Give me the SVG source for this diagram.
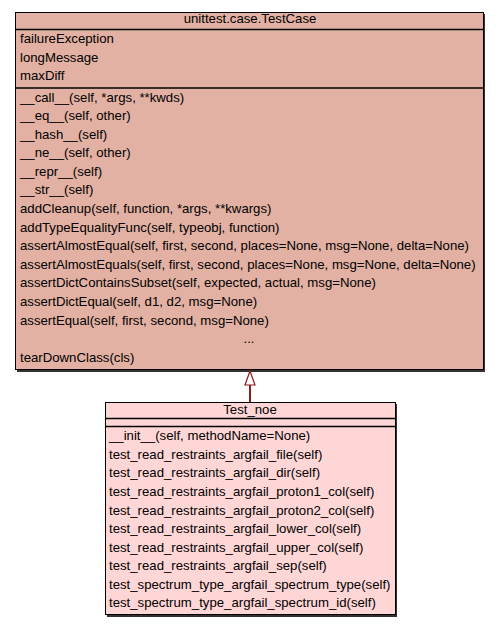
<svg xmlns="http://www.w3.org/2000/svg" width="499" height="627" viewBox="0 0 499 627">
<style>
text{font-family:"Liberation Sans",Arial,sans-serif;font-size:13.2px;fill:#000}
.c{text-anchor:middle}
.box{stroke:#000;stroke-width:1}
.sh{fill:#3a3030}
.sep{stroke:#000;stroke-width:1.3}
</style>
<rect width="499" height="627" fill="#fff"/>
<g id="TestCase">
<rect class="sh" x="17" y="14" width="468" height="358"/>
<rect class="box" x="15.5" y="12.5" width="468" height="357" fill="#e2b1a3"/>
<line class="sep" x1="15.5" y1="29.5" x2="483.5" y2="29.5"/>
<line class="sep" x1="15.5" y1="88" x2="483.5" y2="88"/>
<text class="c" x="250" y="23">unittest.case.TestCase</text>
<text x="20" y="43">failureException</text>
<text x="20" y="61.5">longMessage</text>
<text x="20" y="80">maxDiff</text>
<text x="20" y="101.5">__call__(self, *args, **kwds)</text>
<text x="20" y="120">__eq__(self, other)</text>
<text x="20" y="138.5">__hash__(self)</text>
<text x="20" y="157">__ne__(self, other)</text>
<text x="20" y="175.5">__repr__(self)</text>
<text x="20" y="194">__str__(self)</text>
<text x="20" y="213">addCleanup(self, function, *args, **kwargs)</text>
<text x="20" y="231.5">addTypeEqualityFunc(self, typeobj, function)</text>
<text x="20" y="250">assertAlmostEqual(self, first, second, places=None, msg=None, delta=None)</text>
<text x="20" y="268.5">assertAlmostEquals(self, first, second, places=None, msg=None, delta=None)</text>
<text x="20" y="287">assertDictContainsSubset(self, expected, actual, msg=None)</text>
<text x="20" y="306">assertDictEqual(self, d1, d2, msg=None)</text>
<text x="20" y="324.5">assertEqual(self, first, second, msg=None)</text>
<text class="c" x="249" y="343">...</text>
<text x="20" y="361.5">tearDownClass(cls)</text>
</g>
<g id="Test_noe">
<rect class="sh" x="107" y="404" width="290" height="213"/>
<rect class="box" x="105.5" y="402.5" width="290" height="212" fill="#ffd6d6"/>
<line class="sep" x1="105.5" y1="418.5" x2="395.5" y2="418.5"/>
<line class="sep" x1="105.5" y1="426.5" x2="395.5" y2="426.5"/>
<text class="c" x="250" y="413.5">Test_noe</text>
<text x="109" y="440">__init__(self, methodName=None)</text>
<text x="109" y="458.5">test_read_restraints_argfail_file(self)</text>
<text x="109" y="477">test_read_restraints_argfail_dir(self)</text>
<text x="109" y="496">test_read_restraints_argfail_proton1_col(self)</text>
<text x="109" y="514.5">test_read_restraints_argfail_proton2_col(self)</text>
<text x="109" y="533">test_read_restraints_argfail_lower_col(self)</text>
<text x="109" y="551.5">test_read_restraints_argfail_upper_col(self)</text>
<text x="109" y="570">test_read_restraints_argfail_sep(self)</text>
<text x="109" y="588.5">test_spectrum_type_argfail_spectrum_type(self)</text>
<text x="109" y="607">test_spectrum_type_argfail_spectrum_id(self)</text>
</g>
<g id="connectors">
<line x1="250" y1="402" x2="250" y2="385" stroke="#8b1a1a" stroke-width="2"/>
<polygon points="250,371 245,385 255,385" fill="#fff" stroke="#8b1a1a" stroke-width="1.2"/>
</g>
</svg>
